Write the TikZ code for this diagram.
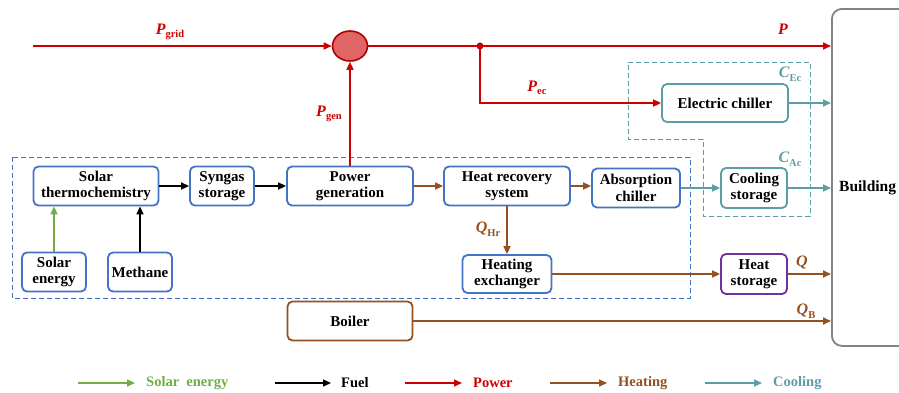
\documentclass[tikz,border=0pt]{standalone}
\usepackage{fontspec}
\setmainfont{Liberation Serif}
\usetikzlibrary{arrows.meta,shapes.geometric}
\definecolor{cblue}{HTML}{4472C4}
\definecolor{cred}{HTML}{CC0000}
\definecolor{cbrown}{HTML}{94501E}
\definecolor{cteal}{HTML}{5B9EA6}
\definecolor{cpurple}{HTML}{7030A0}
\definecolor{cgreen}{HTML}{70AD47}
\definecolor{cgray}{HTML}{7F8580}
\newcommand{\lblx}[3]{\textcolor{#3}{\fontsize{16}{16}\selectfont\bfseries\itshape #1\raisebox{-3.5pt}{\upshape\fontsize{10.5}{10.5}\selectfont #2}}}
\tikzset{
  box/.style={draw=cblue, line width=1.8pt, rounded corners=5pt, fill=white, align=center,
    font=\bfseries\fontsize{15}{16.5}\selectfont, inner sep=0pt},
  arr/.style={line width=1.6pt, -{Triangle[length=8pt,width=7pt]}},
  lg/.style={font=\bfseries\fontsize{14.5}{15}\selectfont, anchor=west, inner sep=0pt}
}
\begin{document}
\begin{tikzpicture}[x=1pt,y=-1pt]
\useasboundingbox (0,0) rectangle (899,392);
\clip (0,0) rectangle (899,392);
% dashed regions
\draw[cblue, line width=1pt, dash pattern=on 5pt off 3pt] (12,157) rectangle (690,298);
\draw[cteal, line width=1pt, dash pattern=on 5pt off 3pt] (628,62) -- (810,62) -- (810,216) -- (703,216) -- (703,139) -- (628,139) -- cycle;
% building
\node[draw=cgray, line width=1.8pt, rounded corners=10pt, minimum width=120, minimum height=337, anchor=north west, inner sep=0pt] (bld) at (831,8) {};
\node[font=\bfseries\fontsize{15.5}{16}\selectfont, anchor=west, inner sep=0pt] (bldt) at (839,188) {Building};
% nodes
\node[box, minimum width=125, minimum height=39] (st) at (96,186) {Solar\\thermochemistry};
\node[box, minimum width=64, minimum height=39] (sy) at (222,186) {Syngas\\storage};
\node[box, minimum width=126, minimum height=39] (pg) at (350,186) {Power\\generation};
\node[box, minimum width=126, minimum height=39] (hr) at (507,186) {Heat recovery\\system};
\node[box, minimum width=88, minimum height=39] (ac) at (636,188) {Absorption\\chiller};
\node[box, minimum width=64, minimum height=39] (se) at (54,272) {Solar\\energy};
\node[box, minimum width=64, minimum height=39] (me) at (140,272) {Methane};
\node[box, minimum width=89, minimum height=38] (he) at (507,274) {Heating\\exchanger};
\node[box, draw=cpurple, minimum width=66, minimum height=40] (hs) at (754,274) {Heat\\storage};
\node[box, draw=cbrown, minimum width=125, minimum height=39] (bo) at (350,321) {Boiler};
\node[box, draw=cteal, minimum width=126, minimum height=38] (ec) at (725,103) {Electric chiller};
\node[box, draw=cteal, minimum width=66, minimum height=40] (cs) at (754,188) {Cooling\\storage};
% mixing circle
\node[draw=cred!85!black, fill=cred!60!white, line width=1.6pt, ellipse, minimum width=35, minimum height=30, inner sep=0pt] (mx) at (350,46) {};
\coordinate (gin) at (33,46);
\coordinate (jn) at (480,46);
\coordinate (jn2) at (480,103);
\fill[cred] (jn) circle (3.5pt);
% red lines
\draw[arr, cred] (gin) -- (mx);
\draw[arr, cred] (mx) -- (jn) -- (bld.west |- jn);
\draw[arr, cred] (jn) -- (jn2) -- (ec.west);
\draw[arr, cred] (pg.north) -- (mx.south);
% fuel
\draw[arr, cgreen] (se.north) -- (se.north |- st.south);
\draw[arr, black] (me.north) -- (me.north |- st.south);
\draw[arr, black] (st.east) -- (sy.west);
\draw[arr, black] (sy.east) -- (pg.west);
% heating
\draw[arr, cbrown] (pg.east) -- (hr.west);
\draw[arr, cbrown] (hr.east) -- (hr.east -| ac.west);
\draw[arr, cbrown] (hr.south) -- (he.north);
\draw[arr, cbrown] (he.east) -- (hs.west);
\draw[arr, cbrown] (hs.east) -- (hs.east -| bld.west);
\draw[arr, cbrown] (bo.east) -- (bo.east -| bld.west);
% cooling
\draw[arr, cteal] (ac.east) -- (cs.west);
\draw[arr, cteal] (cs.east) -- (cs.east -| bld.west);
\draw[arr, cteal] (ec.east) -- (ec.east -| bld.west);
% labels
\node (lgrid) at (170,32) {\lblx{P}{grid}{cred}};
\node (lp) at (783,29) {\textcolor{cred}{\fontsize{16}{16}\selectfont\bfseries\itshape P}};
\node (lec) at (537,88) {\lblx{P}{ec}{cred}};
\node (lgen) at (329,114) {\lblx{P}{gen}{cred}};
\node (lhr) at (488,229) {\lblx{Q}{Hr}{cbrown}};
\node (lq) at (802,262) {\textcolor{cbrown}{\fontsize{16}{16}\selectfont\bfseries\itshape Q}};
\node (lqb) at (806,311) {\lblx{Q}{B}{cbrown}};
\node (lcec) at (790,74) {\lblx{C}{Ec}{cteal}};
\node (lcac) at (790,159) {\lblx{C}{Ac}{cteal}};
% legend
\coordinate (l1a) at (78,383); \coordinate (l1b) at (135,383);
\coordinate (l2a) at (275,383); \coordinate (l2b) at (331,383);
\coordinate (l3a) at (405,383); \coordinate (l3b) at (462,383);
\coordinate (l4a) at (550,383); \coordinate (l4b) at (607,383);
\coordinate (l5a) at (705,383); \coordinate (l5b) at (762,383);
\draw[arr, cgreen, line width=1.4pt] (l1a) -- (l1b);
\draw[arr, black, line width=1.4pt] (l2a) -- (l2b);
\draw[arr, cred, line width=1.4pt] (l3a) -- (l3b);
\draw[arr, cbrown, line width=1.4pt] (l4a) -- (l4b);
\draw[arr, cteal, line width=1.4pt] (l5a) -- (l5b);
\node[lg, text=cgreen] (t1) at (146,383) {Solar\ \ energy};
\node[lg, text=black] (t2) at (341,383) {Fuel};
\node[lg, text=cred] (t3) at (473,383) {Power};
\node[lg, text=cbrown] (t4) at (618,383) {Heating};
\node[lg, text=cteal] (t5) at (773,383) {Cooling};
\end{tikzpicture}
\end{document}
